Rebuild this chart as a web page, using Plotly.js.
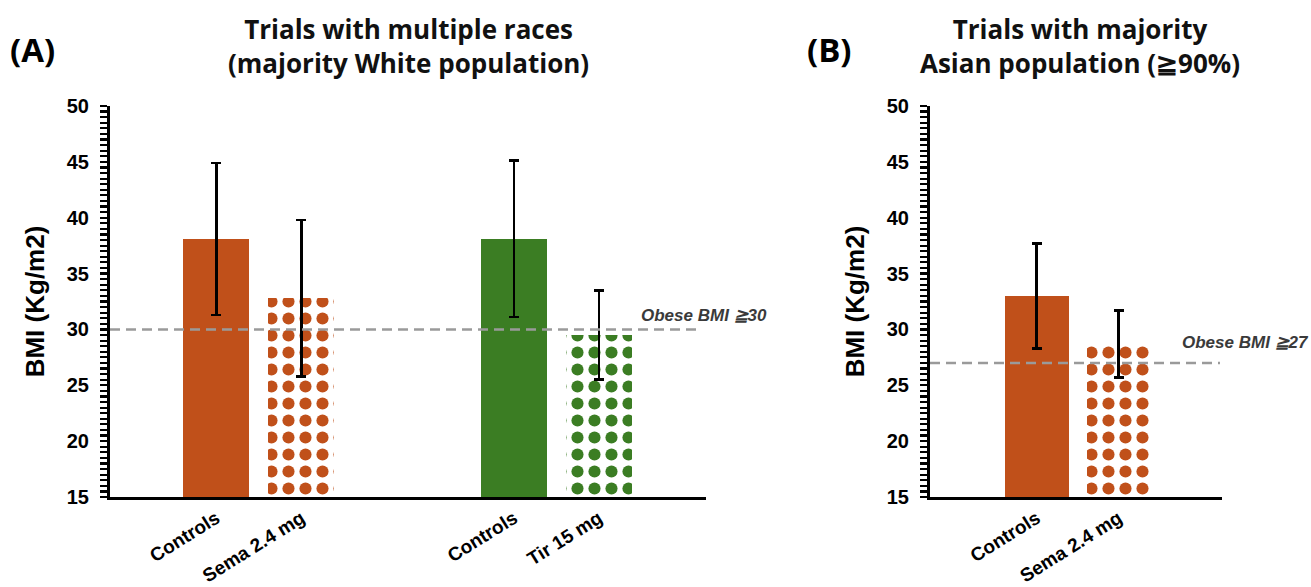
<!DOCTYPE html>
<html>
<head>
<meta charset="utf-8">
<script src="https://cdn.plot.ly/plotly-3.0.1.min.js"></script>
<style>html,body{margin:0;padding:0;background:#fff;}#chart{width:1311px;height:587px;}</style>
</head>
<body>
<div id="chart"></div>
<script>
// ---- data ----
const categoriesA = ["Controls", "Sema 2.4 mg", "Controls", "Tir 15 mg"];
const bmiMeanA    = [38.1, 32.8, 38.1, 29.5];
const bmiSdA      = [6.8, 7.0, 7.0, 4.0];
const categoriesB = ["Controls", "Sema 2.4 mg"];
const bmiMeanB    = [33.0, 28.7];
const bmiSdB      = [4.7, 3.0];
const obeseCutoff = [30, 27];
const yTicks      = [15, 20, 25, 30, 35, 40, 45, 50];

// ---- styling ----
const ORANGE = "#C0501A", GREEN = "#3B7D23";
const W = 1311, H = 587, T = 106, B = 90;
const plotH = H - T - B;
const py = p => (H - B - p) / plotH;   // pixel y -> paper y
const px = p => p / W;                 // pixel x -> paper x

const colorsA = [ORANGE, ORANGE, GREEN, GREEN];
const colorsB = [ORANGE, ORANGE];

// x positions: two bars per group (control, treatment), groups separated by a gap
const posA = categoriesA.map((_, i) => Math.floor(i / 2) * 3.5 + (i % 2));
const posB = categoriesB.map((_, i) => i);

function pick(arr, odd) { return arr.filter((_, i) => (i % 2 === 1) === odd); }

function solidTrace(pos, means, sds, colors, xa, ya) {
  return {
    type: "bar", x: pick(pos, false), y: pick(means, false), xaxis: xa, yaxis: ya, width: 0.78,
    marker: {color: pick(colors, false), line: {width: 0}},
    error_y: {type: "data", array: pick(sds, false), visible: true, color: "#000", thickness: 2.5, width: 5},
    hoverinfo: "skip", showlegend: false
  };
}
function patternTraces(pos, means, sds, colors, xa, ya) {
  const p = pick(pos, true), m = pick(means, true), s = pick(sds, true), c = pick(colors, true);
  return p.map((x, i) => ({
    type: "bar", x: [x], y: [m[i]], xaxis: xa, yaxis: ya, width: 0.78,
    marker: {color: "#ffffff", line: {width: 0},
             pattern: {shape: ".", fgcolor: c[i], fgopacity: 1, bgcolor: "#ffffff",
                       size: 17, solidity: 0.4, fillmode: "overlay"}},
    error_y: {type: "data", array: [s[i]], visible: true, color: "#000", thickness: 2.5, width: 5},
    hoverinfo: "skip", showlegend: false
  }));
}

const traces = [
  solidTrace(posA, bmiMeanA, bmiSdA, colorsA, "x", "y"),
  ...patternTraces(posA, bmiMeanA, bmiSdA, colorsA, "x", "y"),
  solidTrace(posB, bmiMeanB, bmiSdB, colorsB, "x2", "y2"),
  ...patternTraces(posB, bmiMeanB, bmiSdB, colorsB, "x2", "y2")
];

const FONT = "Liberation Sans, Arial, sans-serif";
const tickFont = {family: FONT, size: 20, color: "#000", weight: "bold"};
const xTickFont = {family: FONT, size: 19, color: "#000", weight: "bold"};
const yRange = [yTicks[0], yTicks[yTicks.length - 1]];
// ruler-style ticks every 0.5, labels only at the labelled values
const halfSteps = [];
for (let v = yRange[0]; v <= yRange[1] + 1e-9; v += 0.5) halfSteps.push(v);
const halfText = halfSteps.map(v => yTicks.includes(v) ? String(v) : "");

function yAxis(anchor) {
  return {
    anchor: anchor, range: yRange, domain: [0, 1],
    tickmode: "array", tickvals: halfSteps, ticktext: halfText,
    ticks: "outside", ticklen: 7, tickwidth: 2.2, tickcolor: "#000", ticklabelstandoff: 7,
    showline: true, linewidth: 3, linecolor: "#000", showgrid: false, zeroline: false,
    tickfont: tickFont,
    title: {text: "BMI (Kg/m2)", font: {family: FONT, size: 26, color: "#000", weight: "bold"}, standoff: 15},
    fixedrange: true
  };
}
function xAxis(domain, range, pos, cats, anchor) {
  return {
    domain: domain, range: range, anchor: anchor,
    tickmode: "array", tickvals: pos, ticktext: cats, tickangle: -32,
    ticks: "", showline: true, linewidth: 3, linecolor: "#000",
    showgrid: false, zeroline: false, tickfont: xTickFont, fixedrange: true
  };
}

const titleFont = {family: "Open Sans, Liberation Sans, sans-serif", size: 26, color: "#111", weight: "bold"};
const panelFont = {family: "Open Sans, Liberation Sans, sans-serif", size: 33, color: "#000", weight: "bold"};
const obeseFont = {family: FONT, size: 17, color: "#3a3a3a", weight: "bold"};
const layout = {
  width: W, height: H,
  margin: {l: 0, r: 0, t: T, b: B},
  paper_bgcolor: "#fff", plot_bgcolor: "#fff",
  bargap: 0, barmode: "overlay",
  xaxis: xAxis([px(110), px(706)], [-1.25, 5.76], posA, categoriesA, "y"),
  yaxis: yAxis("x"),
  xaxis2: xAxis([px(930), px(1222)], [-1.3, 2.26], posB, categoriesB, "y2"),
  yaxis2: yAxis("x2"),
  shapes: [
    {type: "line", xref: "x domain", yref: "y", x0: 0, x1: 0.985, y0: obeseCutoff[0], y1: obeseCutoff[0],
     line: {color: "#9a9a9a", width: 2.5, dash: "10px,6px"}, layer: "above"},
    {type: "line", xref: "x2 domain", yref: "y2", x0: 0, x1: 0.993, y0: obeseCutoff[1], y1: obeseCutoff[1],
     line: {color: "#9a9a9a", width: 2.5, dash: "10px,6px"}, layer: "above"}
  ],
  annotations: [
    {text: "(A)", xref: "paper", yref: "paper", x: px(32), y: py(50), xanchor: "center", yanchor: "middle",
     showarrow: false, font: panelFont},
    {text: "(B)", xref: "paper", yref: "paper", x: px(829), y: py(50), xanchor: "center", yanchor: "middle",
     showarrow: false, font: panelFont},
    {text: "Trials with multiple races<br>(majority White population)", xref: "paper", yref: "paper",
     x: px(408), y: py(46), xanchor: "center", yanchor: "middle", showarrow: false, font: titleFont},
    {text: "Trials with majority<br>Asian population (≧90%)", xref: "paper", yref: "paper",
     x: px(1080), y: py(46), xanchor: "center", yanchor: "middle", showarrow: false, font: titleFont},
    {text: "<i>Obese BMI ≧" + obeseCutoff[0] + "</i>", xref: "paper", yref: "paper", x: px(639), y: py(315),
     xanchor: "left", yanchor: "middle", showarrow: false, font: obeseFont},
    {text: "<i>Obese BMI ≧" + obeseCutoff[1] + "</i>", xref: "paper", yref: "paper", x: px(1180), y: py(342),
     xanchor: "left", yanchor: "middle", showarrow: false, font: obeseFont}
  ]
};

Plotly.newPlot("chart", traces, layout, {staticPlot: true, displayModeBar: false});
</script>
</body>
</html>
